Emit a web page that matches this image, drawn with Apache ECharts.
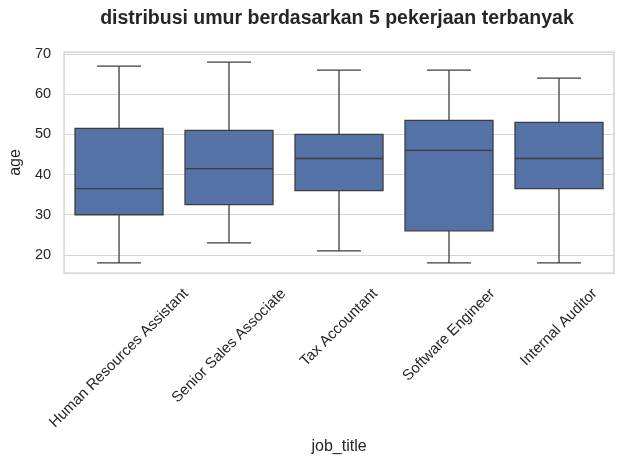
<!DOCTYPE html>
<html>
<head>
<meta charset="utf-8">
<script src="https://cdn.jsdelivr.net/npm/echarts@6/dist/echarts.min.js"></script>
<style>html,body{margin:0;padding:0;background:#fff;}#c{width:623px;height:464px;}</style>
</head>
<body>
<div id="c"></div>
<script>
var categories = ['Human Resources Assistant', 'Senior Sales Associate', 'Tax Accountant', 'Software Engineer', 'Internal Auditor'];
var whiskerLow = [18, 23, 21, 18, 18];
var q1 = [30, 32.5, 36, 26, 36.5];
var median = [36.5, 41.5, 44, 46, 44];
var q3 = [51.5, 51, 50, 53.5, 53];
var whiskerHigh = [67, 68, 66, 66, 64];
var yTicks = [20, 30, 40, 50, 60, 70];

var FONT = '"Liberation Sans", Arial, sans-serif';
var TXT = '#262626';
var BOX = '#5572a6';
var LINE = '#3d3d3d';
var yMin = 15.5, yMax = 70.5;
var TICK_FS = 14.5;
var XLAB_FS = 15;

var boxData = categories.map(function (c, i) {
  return [i, whiskerLow[i], q1[i], median[i], q3[i], whiskerHigh[i]];
});

var mctx = document.createElement('canvas').getContext('2d');
mctx.font = XLAB_FS + 'px ' + FONT;

var chart = echarts.init(document.getElementById('c'));
chart.setOption({
  animation: false,
  backgroundColor: '#fff',
  grid: { left: 60, right: 9, top: 52, bottom: 191, show: true, borderColor: '#cccccc', borderWidth: 1.25, containLabel: false },
  graphic: [
    { type: 'text', x: 337, y: 19, style: { text: 'distribusi umur berdasarkan 5 pekerjaan terbanyak', font: 'bold 19.5px ' + FONT, fill: TXT, align: 'center', verticalAlign: 'middle' } }
  ],
  xAxis: {
    type: 'category',
    data: categories,
    boundaryGap: true,
    axisLine: { show: false },
    axisTick: { show: false },
    axisLabel: { show: false },
    splitLine: { show: false },
    name: 'job_title',
    nameLocation: 'middle',
    nameGap: 166,
    nameTextStyle: { fontFamily: FONT, fontSize: 16, color: TXT }
  },
  yAxis: {
    type: 'value',
    min: yMin,
    max: yMax,
    name: 'age',
    nameLocation: 'middle',
    nameGap: 37,
    nameTextStyle: { fontFamily: FONT, fontSize: 16, color: TXT },
    axisLine: { show: false },
    axisTick: { show: false, customValues: yTicks },
    axisLabel: { customValues: yTicks, fontFamily: FONT, fontSize: TICK_FS, color: TXT, margin: 13 },
    splitLine: { show: true, lineStyle: { color: '#d5d5d5', width: 1 } }
  },
  series: [
    {
      type: 'custom',
      data: boxData,
      encode: { x: 0, y: [1, 2, 3, 4, 5] },
      z: 3,
      renderItem: function (params, api) {
        var idx = api.value(0);
        var pLow = api.coord([idx, api.value(1)]);
        var pQ1 = api.coord([idx, api.value(2)]);
        var pMed = api.coord([idx, api.value(3)]);
        var pQ3 = api.coord([idx, api.value(4)]);
        var pHigh = api.coord([idx, api.value(5)]);
        var band = api.size([1, 0])[0];
        var bw = band * 0.8;
        var cw = bw / 2;
        var cx = pMed[0];
        var ls = { stroke: LINE, lineWidth: 1.3 };
        return {
          type: 'group',
          children: [
            { type: 'line', shape: { x1: cx, y1: pQ3[1], x2: cx, y2: pHigh[1] }, style: ls },
            { type: 'line', shape: { x1: cx, y1: pQ1[1], x2: cx, y2: pLow[1] }, style: ls },
            { type: 'line', shape: { x1: cx - cw / 2, y1: pHigh[1], x2: cx + cw / 2, y2: pHigh[1] }, style: ls },
            { type: 'line', shape: { x1: cx - cw / 2, y1: pLow[1], x2: cx + cw / 2, y2: pLow[1] }, style: ls },
            { type: 'rect', shape: { x: cx - bw / 2, y: pQ3[1], width: bw, height: pQ1[1] - pQ3[1] }, style: { fill: BOX, stroke: LINE, lineWidth: 1.3 } },
            { type: 'line', shape: { x1: cx - bw / 2, y1: pMed[1], x2: cx + bw / 2, y2: pMed[1] }, style: ls }
          ]
        };
      }
    },
    {
      type: 'custom',
      data: categories.map(function (c, i) { return [i, yMin]; }),
      encode: { x: 0, y: 1 },
      clip: false,
      z: 4,
      renderItem: function (params, api) {
        var i = api.value(0);
        var p = api.coord([i, yMin]);
        var text = categories[i];
        var L = mctx.measureText(text).width;
        var h = XLAB_FS;
        var H = (L + h) * Math.SQRT1_2;
        return {
          type: 'text',
          x: p[0],
          y: p[1] + 13 + H / 2,
          rotation: Math.PI / 4,
          style: { text: text, font: XLAB_FS + 'px ' + FONT, fill: TXT, align: 'center', verticalAlign: 'middle' }
        };
      }
    }
  ]
});
</script>
</body>
</html>
